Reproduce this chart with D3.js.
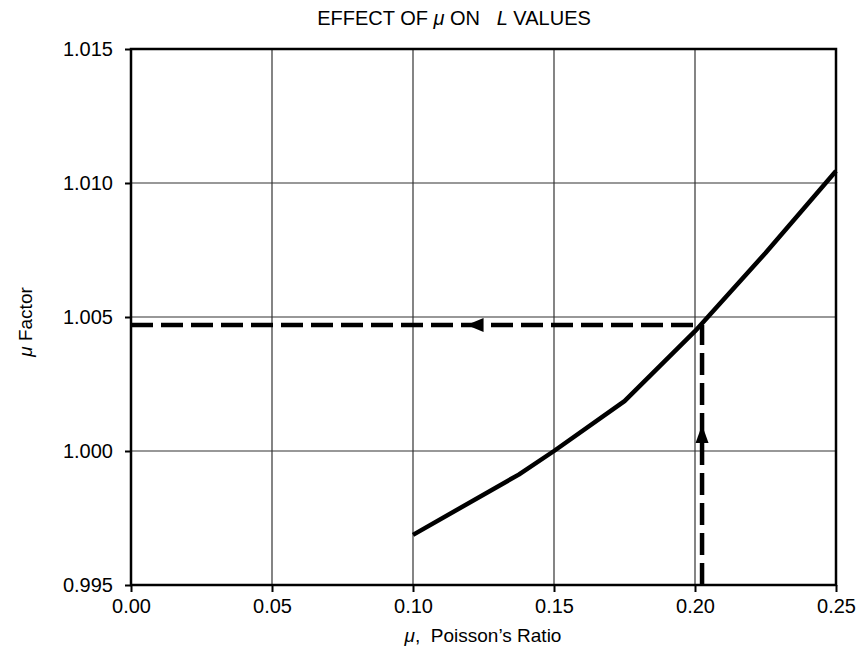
<!DOCTYPE html>
<html><head><meta charset="utf-8">
<script src="https://cdn.jsdelivr.net/npm/d3@7/dist/d3.min.js"></script>
<style>body{margin:0;background:#fff}svg{display:block}text{font-family:"Liberation Sans",Arial,Helvetica,sans-serif;fill:#000}</style>
</head><body><svg id="c" width="859" height="663"></svg>
<script>
const poisson = [0.10, 0.1375, 0.15, 0.175, 0.20, 0.225, 0.25];
const muFactor = [0.99687, 0.99912, 1.00000, 1.00186, 1.00447, 1.00739, 1.01045];
const xTicks = [0.00, 0.05, 0.10, 0.15, 0.20, 0.25];
const yTicks = [0.995, 1.000, 1.005, 1.010, 1.015];
const readX = 0.2025, readY = 1.0047;
const arrowLeftAt = 0.119, arrowUpAt = 1.00097;

const svg = d3.select("#c");
const x = d3.scaleLinear().domain([0, 0.25]).range([131, 836]);
const y = d3.scaleLinear().domain([0.995, 1.015]).range([585, 49]);

// grid
svg.append("g").selectAll("line").data(xTicks.slice(1, -1)).join("line")
  .attr("x1", d => x(d)).attr("x2", d => x(d)).attr("y1", y(1.015)).attr("y2", y(0.995))
  .attr("stroke", "#333").attr("stroke-width", 1.2);
svg.append("g").selectAll("line").data(yTicks.slice(1, -1)).join("line")
  .attr("y1", d => y(d)).attr("y2", d => y(d)).attr("x1", x(0)).attr("x2", x(0.25))
  .attr("stroke", "#333").attr("stroke-width", 1.2);

// border
svg.append("rect").attr("x", x(0)).attr("y", y(1.015)).attr("width", x(0.25) - x(0)).attr("height", y(0.995) - y(1.015))
  .attr("fill", "none").attr("stroke", "#000").attr("stroke-width", 2.5);

// axes
const xAxis = svg.append("g").attr("transform", `translate(0,${y(0.995)})`)
  .call(d3.axisBottom(x).tickValues(xTicks).tickFormat(d3.format(".2f")).tickSize(7).tickPadding(7));
const yAxis = svg.append("g").attr("transform", `translate(${x(0)},0)`)
  .call(d3.axisLeft(y).tickValues(yTicks).tickFormat(d3.format(".3f")).tickSize(6).tickPadding(12));
[xAxis, yAxis].forEach(a => {
  a.select(".domain").remove();
  a.selectAll(".tick line").attr("stroke", "#000").attr("stroke-width", 2);
  a.selectAll(".tick text").attr("font-size", 20).attr("fill", "#000")
   .style("font-family", '"Liberation Sans",Arial,sans-serif');
});

// curve
svg.append("path")
  .datum(poisson.map((p, i) => [p, muFactor[i]]))
  .attr("d", d3.line().x(d => x(d[0])).y(d => y(d[1])))
  .attr("fill", "none").attr("stroke", "#000").attr("stroke-width", 4.5).attr("stroke-linejoin", "round");

// dashed read-off lines
svg.append("line").attr("x1", x(0)).attr("x2", x(readX)).attr("y1", y(readY)).attr("y2", y(readY))
  .attr("stroke", "#000").attr("stroke-width", 4.5).attr("stroke-dasharray", "22,8");
svg.append("line").attr("x1", x(readX)).attr("x2", x(readX)).attr("y1", y(0.995)).attr("y2", y(readY))
  .attr("stroke", "#000").attr("stroke-width", 4.5).attr("stroke-dasharray", "22,8");

// arrowheads
const ax = x(arrowLeftAt), ay = y(readY);
svg.append("path").attr("d", `M${ax},${ay} L${ax + 17},${ay - 7} L${ax + 17},${ay + 7} Z`).attr("fill", "#000");
const bx = x(readX), by = y(arrowUpAt);
svg.append("path").attr("d", `M${bx},${by} L${bx - 6.5},${by + 18} L${bx + 6.5},${by + 18} Z`).attr("fill", "#000");

// title
const t = svg.append("text").attr("x", 454).attr("y", 25).attr("text-anchor", "middle").attr("font-size", 20);
t.append("tspan").text("EFFECT OF ");
t.append("tspan").attr("font-style", "italic").text("μ");
t.append("tspan").text(" ON\u00a0\u00a0\u00a0");
t.append("tspan").attr("font-style", "italic").text("L");
t.append("tspan").text(" VALUES");

// x title
const xt = svg.append("text").attr("x", 483).attr("y", 642).attr("text-anchor", "middle").attr("font-size", 19);
xt.append("tspan").attr("font-style", "italic").text("μ");
xt.append("tspan").text(",\u00a0\u00a0Poisson’s Ratio");

// y title
const yt = svg.append("text").attr("transform", "translate(32,322) rotate(-90)").attr("text-anchor", "middle").attr("font-size", 19);
yt.append("tspan").attr("font-style", "italic").text("μ");
yt.append("tspan").text(" Factor");
</script></body></html>
